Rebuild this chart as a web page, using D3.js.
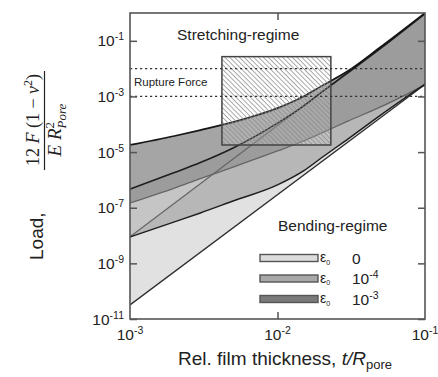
<!DOCTYPE html>
<html><head><meta charset="utf-8">
<script src="https://cdn.jsdelivr.net/npm/d3@7"></script>
<style>
html,body{margin:0;padding:0;background:#fff;}
svg{display:block;}
text{font-family:"Liberation Sans",Arial,sans-serif;fill:#222;}
.math text, text.math{font-family:"Liberation Serif","DejaVu Serif",serif;}
</style></head><body>
<svg id="chart" width="438" height="377"></svg>
<script>
// Relative film thickness t/R_pore sampled along each curve
const thickness = [1e-3, 2e-3, 3e-3, 5e-3, 1e-2, 1.5e-2, 2e-2, 3e-2, 5e-2, 1e-1];
const thicknessEnds = [1e-3, 1e-1];

// Normalized load, eps0 = 0 (straight power laws)
const load0Upper = [9e-9, 0.9];
const load0Lower = [3.2e-11, 2.7e-3];
// Normalized load, eps0 = 1e-4
const load4Upper = [4.7e-7, 1.85e-6, 4.2e-6, 1.4e-5, 1.1e-4, 4.5e-4, 1.45e-3, 7.0e-3, 5.3e-2, 0.96];
const load4Lower = [8.9e-9, 3.1e-8, 6.5e-8, 1.74e-7, 6.6e-7, 2.1e-6, 6.4e-6, 2.95e-5, 2.15e-4, 2.8e-3];
// Normalized load, eps0 = 1e-3
const load3Upper = [1.8e-5, 3.8e-5, 6.2e-5, 1.2e-4, 3.8e-4, 1.0e-3, 2.4e-3, 8.2e-3, 6.0e-2, 1.0];
const load3Lower = [1.48e-7, 5.1e-7, 1.12e-6, 2.9e-6, 1.1e-5, 2.5e-5, 4.9e-5, 1.3e-4, 4.2e-4, 2.6e-3];

// Rupture force range and the overlap window
const ruptureForce = [1e-3, 1e-2];
const windowThickness = [4.2e-3, 2.3e-2];
const windowLoad = [1.8e-5, 2.7e-2];

// Axis ticks
const yTickValues = [1e-11, 1e-9, 1e-7, 1e-5, 1e-3, 1e-1];
const yTickExponents = ["-11", "-9", "-7", "-5", "-3", "-1"];
const xLabelValues = [1e-3, 1e-2, 1e-1];
const xLabelExponents = ["-3", "-2", "-1"];
const xTickValues = [1e-2];

// Legend entries (prestrain levels)
const legendBase = ["0", "10", "10"];
const legendExponents = ["", "-4", "-3"];

const svg = d3.select("#chart");
const X0 = 130, X1 = 425, Y0 = 319, Y1 = 13;
const x = d3.scaleLog().domain([1e-3, 1e-1]).range([X0, X1]);
const y = d3.scaleLog().domain([1e-11, 1]).range([Y0, Y1]);

svg.append("defs").call(defs => {
  defs.append("clipPath").attr("id", "plotClip")
    .append("rect").attr("x", X0).attr("y", Y1).attr("width", X1 - X0).attr("height", Y0 - Y1);
  const p = defs.append("pattern").attr("id", "hatch")
    .attr("patternUnits", "userSpaceOnUse").attr("width", 3.4).attr("height", 3.4)
    .attr("patternTransform", "rotate(45)");
  p.append("rect").attr("width", 3.4).attr("height", 3.4).attr("fill", "rgba(255,255,255,0.12)");
  p.append("line").attr("x1", 0).attr("y1", 0.5).attr("x2", 3.4).attr("y2", 0.5)
    .attr("stroke", "#8a8a8a").attr("stroke-width", 0.75);
});

const plot = svg.append("g").attr("clip-path", "url(#plotClip)");

const zip = (ts, vs) => ts.map((t, i) => [t, vs[i]]);
const band = (ts, lo, hi, curve) => d3.area()
  .x((d, i) => x(ts[i])).y0((d, i) => y(lo[i])).y1((d, i) => y(hi[i]))
  .curve(curve)(ts);
const line = (pts, curve) => d3.line().x(d => x(d[0])).y(d => y(d[1])).curve(curve)(pts);
const smooth = d3.curveMonotoneX, straight = d3.curveLinear;

// eps0 = 0 band
plot.append("path").attr("d", band(thicknessEnds, load0Lower, load0Upper, straight))
  .attr("fill", "#e1e1e1");
// eps0 = 1e-3 band
plot.append("path").attr("d", band(thickness, load3Lower, load3Upper, smooth))
  .attr("fill", "#a5a5a5");
// boundary curves for eps0 = 0 and 1e-3
plot.append("path").attr("d", line(zip(thicknessEnds, load0Upper), straight))
  .attr("fill", "none").attr("stroke", "#2a2a2a").attr("stroke-width", 1.3);
plot.append("path").attr("d", line(zip(thickness, load3Lower), smooth))
  .attr("fill", "none").attr("stroke", "#2a2a2a").attr("stroke-width", 1.3);
plot.append("path").attr("d", line(zip(thicknessEnds, load0Lower), straight))
  .attr("fill", "none").attr("stroke", "#2e2e2e").attr("stroke-width", 1.4);
// eps0 = 1e-4 band, translucent on top
plot.append("path").attr("d", band(thickness, load4Lower, load4Upper, smooth))
  .attr("fill", "rgb(150,150,150)").attr("fill-opacity", 0.55);
plot.append("path").attr("d", line(zip(thickness, load4Lower), smooth))
  .attr("fill", "none").attr("stroke", "#1e1e1e").attr("stroke-width", 1.5);
plot.append("path").attr("d", line(zip(thickness, load4Upper), smooth))
  .attr("fill", "none").attr("stroke", "#1e1e1e").attr("stroke-width", 1.6);
plot.append("path").attr("d", line(zip(thickness, load3Upper), smooth))
  .attr("fill", "none").attr("stroke", "#151515").attr("stroke-width", 1.7);

// overlap window (hatched)
plot.append("rect")
  .attr("x", x(windowThickness[0])).attr("y", y(windowLoad[1]))
  .attr("width", x(windowThickness[1]) - x(windowThickness[0]))
  .attr("height", y(windowLoad[0]) - y(windowLoad[1]))
  .attr("fill", "url(#hatch)").attr("stroke", "#444").attr("stroke-width", 1.5);

// rupture force limits
plot.selectAll("line.rupture").data(ruptureForce).join("line").attr("class", "rupture")
  .attr("x1", X0).attr("x2", X1).attr("y1", d => y(d)).attr("y2", d => y(d))
  .attr("stroke", "#333").attr("stroke-width", 1.3).attr("stroke-dasharray", "2.2,2.8");

svg.append("text").attr("x", 134).attr("y", 86).attr("font-size", 11.5).attr("fill", "#333")
  .text("Rupture Force");
svg.append("text").attr("x", 177).attr("y", 40).attr("font-size", 15.5).attr("fill", "#333")
  .text("Stretching-regime");
svg.append("text").attr("x", 278).attr("y", 231).attr("font-size", 15.5).attr("fill", "#333")
  .text("Bending-regime");

// frame and inward ticks
svg.append("rect").attr("x", X0).attr("y", Y1).attr("width", X1 - X0).attr("height", Y0 - Y1)
  .attr("fill", "none").attr("stroke", "#555").attr("stroke-width", 1.6);
const styleAxis = g => { g.select(".domain").remove(); g.selectAll("line").attr("stroke", "#555").attr("stroke-width", 1.5); g.selectAll("text").remove(); };
svg.append("g").attr("transform", `translate(${X0},0)`)
  .call(d3.axisLeft(y).tickValues(yTickValues).tickSizeInner(-7).tickSizeOuter(0)).call(styleAxis);
svg.append("g").attr("transform", `translate(${X1},0)`)
  .call(d3.axisRight(y).tickValues(yTickValues).tickSizeInner(-7).tickSizeOuter(0)).call(styleAxis);
svg.append("g").attr("transform", `translate(0,${Y0})`)
  .call(d3.axisBottom(x).tickValues(xTickValues).tickSizeInner(-7).tickSizeOuter(0)).call(styleAxis);
svg.append("g").attr("transform", `translate(0,${Y1})`)
  .call(d3.axisTop(x).tickValues(xTickValues).tickSizeInner(-7).tickSizeOuter(0)).call(styleAxis);

// power-of-ten tick labels
const pow10 = (sel, base, exp) => {
  sel.append("tspan").text(base);
  sel.append("tspan").attr("dy", -6).attr("font-size", 10.5).text(exp);
};
yTickValues.forEach((v, i) => {
  const t = svg.append("text").attr("x", 124).attr("y", y(v) + 5.5)
    .attr("text-anchor", "end").attr("font-size", 15.5);
  pow10(t, "10", yTickExponents[i]);
});
xLabelValues.forEach((v, i) => {
  const t = svg.append("text").attr("x", x(v)).attr("y", 340)
    .attr("text-anchor", "middle").attr("font-size", 15.5);
  pow10(t, "10", xLabelExponents[i]);
});

// axis titles
const xt = svg.append("text").attr("x", 178).attr("y", 365).attr("font-size", 19);
xt.append("tspan").text("Rel. film thickness, ");
xt.append("tspan").attr("font-style", "italic").text("t/R");
xt.append("tspan").attr("font-size", 13).attr("dy", 4).text("pore");

const yt = svg.append("g").attr("transform", "rotate(-90)");
yt.append("text").attr("x", -260).attr("y", 43).attr("font-size", 19).text("Load,");
const num = yt.append("text").attr("class", "math").attr("x", -120).attr("y", 39)
  .attr("text-anchor", "middle").attr("font-size", 18);
num.append("tspan").text("12 ");
num.append("tspan").attr("font-style", "italic").text("F");
num.append("tspan").text(" (1 − ");
num.append("tspan").attr("font-style", "italic").text("ν");
num.append("tspan").attr("dy", -7).attr("font-size", 12).text("2");
num.append("tspan").attr("dy", 7).text(")");
yt.append("line").attr("x1", -170).attr("x2", -71).attr("y1", 44.5).attr("y2", 44.5)
  .attr("stroke", "#222").attr("stroke-width", 1.2);
const den = yt.append("text").attr("class", "math").attr("x", -130).attr("y", 61)
  .attr("text-anchor", "middle").attr("font-size", 19);
den.append("tspan").attr("font-style", "italic").text("E R");
den.append("tspan").attr("dy", -7).attr("font-size", 13).text("2");
den.append("tspan").attr("dx", -6.5).attr("dy", 12).attr("font-size", 13).attr("font-style", "italic").text("Pore");

// legend
const legendFill = ["#dcdcdc", "#a8a8a8", "#7a7a7a"];
const lg = svg.append("g");
legendBase.forEach((b, i) => {
  const cy = 258 + i * 20.5;
  lg.append("rect").attr("x", 260).attr("y", cy - 3.5).attr("width", 58).attr("height", 7)
    .attr("fill", legendFill[i]).attr("stroke", "#555").attr("stroke-width", 1.4);
  const e = lg.append("text").attr("x", 320).attr("y", cy + 4).attr("font-size", 14).attr("fill", "#444");
  e.append("tspan").text("ε");
  e.append("tspan").attr("dy", 2.5).attr("font-size", 7).text("0");
  const v = lg.append("text").attr("x", 352).attr("y", cy + 5.5).attr("font-size", 15.5);
  if (legendExponents[i]) pow10(v, b, legendExponents[i]); else v.text(b);
});
</script>
</body></html>
